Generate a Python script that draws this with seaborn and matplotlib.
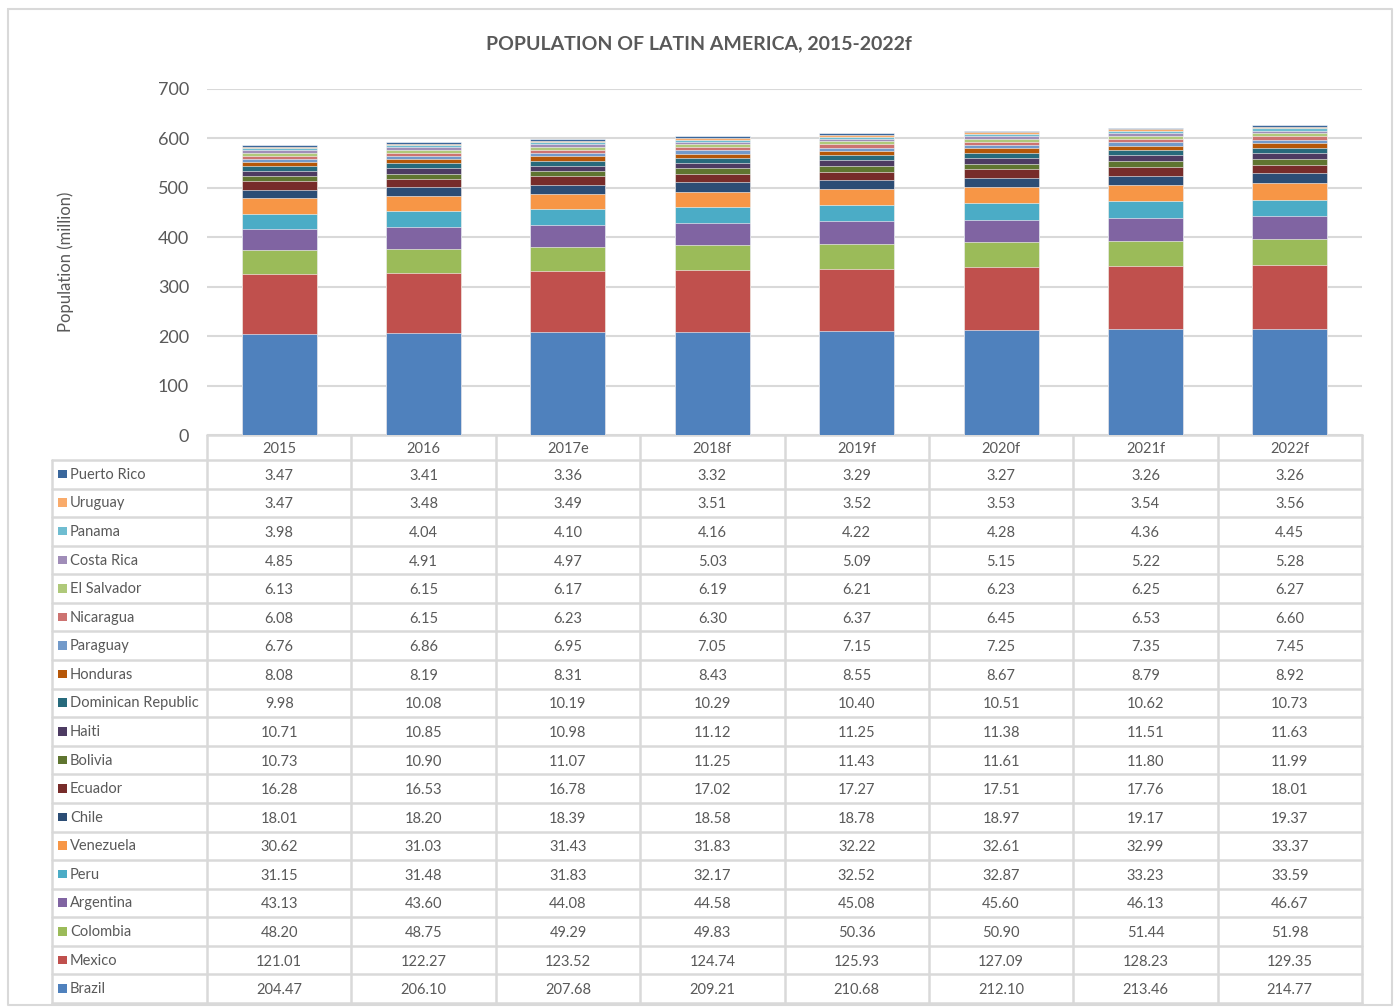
import matplotlib
matplotlib.use("Agg")
import matplotlib.pyplot as plt
import seaborn as sns
import numpy as np
import pandas as pd

years = ["2015", "2016", "2017e", "2018f", "2019f", "2020f", "2021f", "2022f"]

# bottom-to-top stacking order
countries = ["Brazil", "Mexico", "Colombia", "Argentina", "Peru", "Venezuela", "Chile",
             "Ecuador", "Bolivia", "Haiti", "Dominican Republic", "Honduras", "Paraguay",
             "Nicaragua", "El Salvador", "Costa Rica", "Panama", "Uruguay", "Puerto Rico"]

brazil = [204.47, 206.10, 207.68, 209.21, 210.68, 212.10, 213.46, 214.77]
mexico = [121.01, 122.27, 123.52, 124.74, 125.93, 127.09, 128.23, 129.35]
colombia = [48.20, 48.75, 49.29, 49.83, 50.36, 50.90, 51.44, 51.98]
argentina = [43.13, 43.60, 44.08, 44.58, 45.08, 45.60, 46.13, 46.67]
peru = [31.15, 31.48, 31.83, 32.17, 32.52, 32.87, 33.23, 33.59]
venezuela = [30.62, 31.03, 31.43, 31.83, 32.22, 32.61, 32.99, 33.37]
chile = [18.01, 18.20, 18.39, 18.58, 18.78, 18.97, 19.17, 19.37]
ecuador = [16.28, 16.53, 16.78, 17.02, 17.27, 17.51, 17.76, 18.01]
bolivia = [10.73, 10.90, 11.07, 11.25, 11.43, 11.61, 11.80, 11.99]
haiti = [10.71, 10.85, 10.98, 11.12, 11.25, 11.38, 11.51, 11.63]
dominican = [9.98, 10.08, 10.19, 10.29, 10.40, 10.51, 10.62, 10.73]
honduras = [8.08, 8.19, 8.31, 8.43, 8.55, 8.67, 8.79, 8.92]
paraguay = [6.76, 6.86, 6.95, 7.05, 7.15, 7.25, 7.35, 7.45]
nicaragua = [6.08, 6.15, 6.23, 6.30, 6.37, 6.45, 6.53, 6.60]
el_salvador = [6.13, 6.15, 6.17, 6.19, 6.21, 6.23, 6.25, 6.27]
costa_rica = [4.85, 4.91, 4.97, 5.03, 5.09, 5.15, 5.22, 5.28]
panama = [3.98, 4.04, 4.10, 4.16, 4.22, 4.28, 4.36, 4.45]
uruguay = [3.47, 3.48, 3.49, 3.51, 3.52, 3.53, 3.54, 3.56]
puerto_rico = [3.47, 3.41, 3.36, 3.32, 3.29, 3.27, 3.26, 3.26]

series = [brazil, mexico, colombia, argentina, peru, venezuela, chile, ecuador, bolivia,
          haiti, dominican, honduras, paraguay, nicaragua, el_salvador, costa_rica,
          panama, uruguay, puerto_rico]

colors = ["#4F81BD", "#C0504D", "#9BBB59", "#8064A2", "#4BACC6", "#F79646", "#2C4D75",
          "#772C2A", "#5F7530", "#4D3B62", "#276A7C", "#B65708", "#729ACA", "#CD7371",
          "#AFC97A", "#A08DB8", "#6FBDD1", "#F9AB6B", "#3A679C"]

yticks = [0, 100, 200, 300, 400, 500, 600, 700]

sns.set_theme(style="white")
plt.rcParams["font.family"] = ["Lato", "DejaVu Sans"]
TXT = "#595959"
GRID = "#D9D9D9"

W, H = 1397, 1007
fig = plt.figure(figsize=(W / 100, H / 100), dpi=100)

# background overlay axes in pixel coordinates
bg = fig.add_axes([0, 0, 1, 1])
bg.set_xlim(0, W)
bg.set_ylim(H, 0)
bg.axis("off")

# outer frame
bg.plot([8, 1392, 1392, 8, 8], [9, 9, 1005, 1005, 9], color=GRID, lw=1.5)

# plot area
px0, px1, py_top, py_bot = 207, 1362, 89, 435
ax = fig.add_axes([px0 / W, 1 - py_bot / H, (px1 - px0) / W, (py_bot - py_top) / H])

cum = np.cumsum(np.array(series), axis=0)

for i in range(len(countries) - 1, -1, -1):
    sns.barplot(x=years, y=cum[i], color=colors[i], saturation=1, width=0.52,
                errorbar=None, ax=ax, edgecolor="white", linewidth=0.4, zorder=3)

ax.set_ylim(0, 700)
ax.set_xlim(-0.5, len(years) - 0.5)
ax.set_yticks(yticks)
ax.set_yticklabels([str(t) for t in yticks], fontsize=13, color=TXT)
ax.tick_params(axis="y", length=0, pad=13)
ax.set_xticks([])
ax.set_xlabel("")
ax.set_ylabel("Population (million)", fontsize=12, color=TXT, labelpad=60)
ax.grid(axis="y", color=GRID, lw=1.5, zorder=0)
for s in ax.spines.values():
    s.set_visible(False)
ax.set_facecolor("none")

# title
bg.text(699, 43.5, "POPULATION OF LATIN AMERICA, 2015-2022f", ha="center", va="center",
        fontsize=14, fontweight="bold", color=TXT)

# data table
ncol = len(years)
colw = (px1 - px0) / ncol
head_top, head_bot = 435, 460
rowh = (1003 - head_bot) / len(countries)
tab_left = 52

for k in range(ncol + 1):
    x = px0 + k * colw
    bg.plot([x, x], [head_top, head_bot + len(countries) * rowh], color=GRID, lw=1.8)
bg.plot([tab_left, tab_left], [head_bot, head_bot + len(countries) * rowh], color=GRID, lw=1.8)
bg.plot([px0, px1], [head_top, head_top], color=GRID, lw=1.8)
for r in range(len(countries) + 1):
    y = head_bot + r * rowh
    bg.plot([tab_left, px1], [y, y], color=GRID, lw=1.8)

for k, yr in enumerate(years):
    bg.text(px0 + (k + 0.5) * colw, (head_top + head_bot) / 2 + 1.5, yr, ha="center",
            va="center", fontsize=10.5, color=TXT)

table_order = list(range(len(countries) - 1, -1, -1))
for r, ci in enumerate(table_order):
    yc = head_bot + (r + 0.5) * rowh
    bg.add_patch(plt.Rectangle((58, yc - 4.5), 8.5, 8.5, color=colors[ci], lw=0))
    bg.text(70, yc + 0.5, countries[ci], ha="left", va="center", fontsize=10.5, color=TXT)
    for k in range(ncol):
        bg.text(px0 + (k + 0.5) * colw, yc + 1.5, f"{series[ci][k]:.2f}", ha="center",
                va="center", fontsize=10.5, color=TXT)

fig.savefig("out.png", dpi=100, facecolor="white")
